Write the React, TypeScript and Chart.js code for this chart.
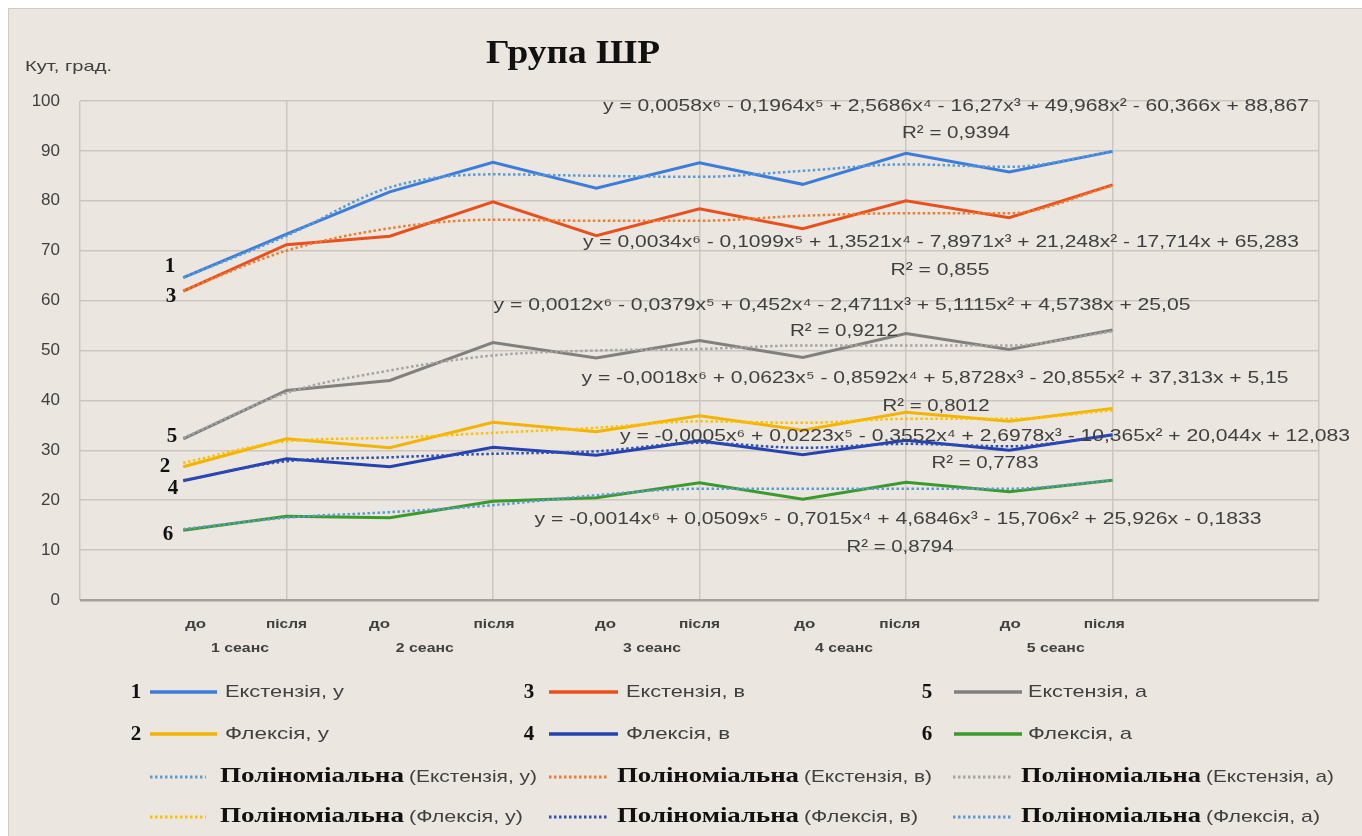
import React, { useEffect, useRef } from 'react';
import { Chart, registerables } from 'chart.js';

Chart.register(...registerables);

// ---------- data ----------
const categories = ['до', 'після', 'до', 'після', 'до', 'після', 'до', 'після', 'до', 'після'];
const sessions = ['1 сеанс', '2 сеанс', '3 сеанс', '4 сеанс', '5 сеанс'];
const yTickValues = [0, 10, 20, 30, 40, 50, 60, 70, 80, 90, 100];

const extensionU = [64.6, 73.3, 81.8, 87.7, 82.5, 87.6, 83.3, 89.5, 85.8, 89.9];
const flexionU = [26.7, 32.3, 30.5, 35.6, 33.7, 36.9, 34.0, 37.6, 35.8, 38.4];
const extensionV = [61.9, 71.2, 72.9, 79.8, 73.0, 78.4, 74.4, 80.0, 76.6, 83.2];
const flexionV = [23.9, 28.3, 26.7, 30.6, 29.0, 31.9, 29.1, 32.0, 30.0, 33.1];
const extensionA = [32.3, 42.0, 44.0, 51.6, 48.5, 52.0, 48.6, 53.4, 50.2, 54.1];
const flexionA = [14.0, 16.8, 16.5, 19.8, 20.5, 23.5, 20.2, 23.6, 21.7, 24.0];

// polynomial trend lines
const trendExtensionU = [64.6, 73.0, 82.7, 85.3, 85.0, 84.8, 86.0, 87.3, 86.8, 89.8];
const trendFlexionU = [27.5, 31.8, 32.5, 33.5, 34.5, 35.8, 35.5, 36.3, 36.3, 38.0];
const trendExtensionV = [62.0, 70.0, 74.5, 76.2, 76.0, 76.0, 77.0, 77.5, 77.5, 83.0];
const trendFlexionV = [24.0, 27.8, 28.6, 29.3, 29.8, 31.5, 30.5, 31.3, 30.8, 33.0];
const trendExtensionA = [32.5, 41.5, 46.0, 49.0, 50.0, 50.3, 51.0, 51.0, 51.0, 53.8];
const trendFlexionA = [14.2, 16.5, 17.6, 19.0, 21.0, 22.3, 22.3, 22.3, 22.3, 24.0];

const seriesNames = ['Екстензія, у', 'Флексія, у', 'Екстензія, в', 'Флексія, в', 'Екстензія, а', 'Флексія, а'];
const seriesNumbers = ['1', '2', '3', '4', '5', '6'];
const trendWord = 'Поліноміальна';

const equations = [
  'y = 0,0058x⁶ - 0,1964x⁵ + 2,5686x⁴ - 16,27x³ + 49,968x² - 60,366x + 88,867',
  'y = 0,0034x⁶ - 0,1099x⁵ + 1,3521x⁴ - 7,8971x³ + 21,248x² - 17,714x + 65,283',
  'y = 0,0012x⁶ - 0,0379x⁵ + 0,452x⁴ - 2,4711x³ + 5,1115x² + 4,5738x + 25,05',
  'y = -0,0018x⁶ + 0,0623x⁵ - 0,8592x⁴ + 5,8728x³ - 20,855x² + 37,313x + 5,15',
  'y = -0,0005x⁶ + 0,0223x⁵ - 0,3552x⁴ + 2,6978x³ - 10,365x² + 20,044x + 12,083',
  'y = -0,0014x⁶ + 0,0509x⁵ - 0,7015x⁴ + 4,6846x³ - 15,706x² + 25,926x - 0,1833',
];
const rSquared = ['R² = 0,9394', 'R² = 0,855', 'R² = 0,9212', 'R² = 0,8012', 'R² = 0,7783', 'R² = 0,8794'];

const titleText = 'Група ШР';
const yAxisTitle = 'Кут, град.';

// ---------- styles / layout ----------
const W = 1362;
const H = 836;
const BG = '#EBE6DF';
const GRID = '#CBC6BF';
const AXIS = '#A6A19B';
const TEXT = '#404040';
const SANS = "'Liberation Sans', 'DejaVu Sans', sans-serif";
const SERIF = "'Liberation Serif', 'DejaVu Serif', serif";

const lineColors = ['#3B7DD8', '#F2B400', '#E8501E', '#2543B0', '#808080', '#3A9A2A'];
const trendColors = ['#5B9BD5', '#FFC000', '#ED7D31', '#2F4FB5', '#A5A5A5', '#5B9BD5'];

const positions = categories.map((_, i) => i + 1);
const lineData = [extensionU, flexionU, extensionV, flexionV, extensionA, flexionA];
const trendData = [trendExtensionU, trendFlexionU, trendExtensionV, trendFlexionV, trendExtensionA, trendFlexionA];

// label offsets (category units) and pixel layout of annotations
const catLabelOffsets = [0.12, 0, -0.1, 0.01, 0.09, 0, 0.02, -0.06, 0.01, -0.08];
const sessionOffsets = [0.05, -0.16, 0.04, -0.1, -0.05];
const eqLayout = [
  { cx: 956, y: 106, w: 706, rcx: 956, ry: 133, rw: 108 },
  { cx: 941, y: 242, w: 716, rcx: 940, ry: 270, rw: 99 },
  { cx: 842, y: 305, w: 697, rcx: 844, ry: 331, rw: 108 },
  { cx: 935, y: 378, w: 707, rcx: 936, ry: 406, rw: 107 },
  { cx: 985, y: 436, w: 730, rcx: 985, ry: 463, rw: 107 },
  { cx: 898, y: 519, w: 727, rcx: 900, ry: 547, rw: 107 },
];
const numLabelPos = [
  { x: 170, y: 267 }, { x: 165, y: 467 }, { x: 171, y: 297 },
  { x: 173, y: 489 }, { x: 172, y: 437 }, { x: 168, y: 535 },
];
const legendCols = [
  { num: 136, l0: 150, l1: 217, text: 225, d0: 150, d1: 206, poly: 220, polyW: 184 },
  { num: 529, l0: 549, l1: 618, text: 626, d0: 549, d1: 609, poly: 617, polyW: 182 },
  { num: 927, l0: 954, l1: 1022, text: 1028, d0: 953, d1: 1013, poly: 1021, polyW: 180 },
];
const legendRows = [692, 734, 777, 817];

function txt(
  ctx: CanvasRenderingContext2D, s: string, x: number, y: number,
  font: string, color: string, align: 'left' | 'center' | 'right', w?: number,
) {
  ctx.save();
  ctx.font = font;
  ctx.fillStyle = color;
  ctx.textBaseline = 'middle';
  ctx.textAlign = 'left';
  const m = ctx.measureText(s).width;
  const width = w ?? m;
  const sx = w ? w / m : 1;
  const left = align === 'left' ? x : align === 'center' ? x - width / 2 : x - width;
  ctx.translate(left, y);
  ctx.scale(sx, 1);
  ctx.fillText(s, 0, 0);
  ctx.restore();
  return left + width;
}

function seg(ctx: CanvasRenderingContext2D, x0: number, x1: number, y: number, color: string, dotted: boolean) {
  ctx.save();
  ctx.strokeStyle = color;
  ctx.lineWidth = dotted ? 3 : 3.5;
  ctx.setLineDash(dotted ? [2.5, 2.5] : []);
  ctx.beginPath();
  ctx.moveTo(x0, y);
  ctx.lineTo(x1, y);
  ctx.stroke();
  ctx.restore();
}

const decorPlugin = {
  id: 'decor',
  beforeDraw(chart: any) {
    const ctx: CanvasRenderingContext2D = chart.ctx;
    ctx.save();
    ctx.fillStyle = '#FFFFFF';
    ctx.fillRect(0, 0, W, H);
    ctx.fillStyle = BG;
    ctx.fillRect(8, 8, W - 8, H - 8);
    ctx.strokeStyle = '#CFCAC4';
    ctx.lineWidth = 1;
    ctx.beginPath();
    ctx.moveTo(8.5, H);
    ctx.lineTo(8.5, 8.5);
    ctx.lineTo(W, 8.5);
    ctx.stroke();
    ctx.restore();
  },
  afterDraw(chart: any) {
    const ctx: CanvasRenderingContext2D = chart.ctx;
    const xs = chart.scales.x;

    // title and axis title
    txt(ctx, titleText, 573, 54, `bold 34px ${SERIF}`, '#111111', 'center', 174);
    txt(ctx, yAxisTitle, 25, 67, `15px ${SANS}`, TEXT, 'left', 87);

    // category labels
    categories.forEach((c, i) => {
      const px = xs.getPixelForValue(positions[i] + catLabelOffsets[i]);
      txt(ctx, c, px, 624, `bold 13px ${SANS}`, TEXT, 'center', c === 'до' ? 21 : 41);
    });
    sessions.forEach((s, i) => {
      const px = xs.getPixelForValue(positions[i * 2] + 0.5 + sessionOffsets[i]);
      txt(ctx, s, px, 648, `bold 13px ${SANS}`, TEXT, 'center', 58);
    });

    // series numbers near line starts
    seriesNumbers.forEach((n, i) => {
      txt(ctx, n, numLabelPos[i].x, numLabelPos[i].y, `bold 21px ${SERIF}`, '#111111', 'center');
    });

    // equations
    const eqOrder = [0, 2, 4, 1, 3, 5];
    eqOrder.forEach((_, k) => {
      const L = eqLayout[k];
      txt(ctx, equations[k], L.cx, L.y, `17px ${SANS}`, TEXT, 'center', L.w);
      txt(ctx, rSquared[k], L.rcx, L.ry, `17px ${SANS}`, TEXT, 'center', L.rw);
    });

    // legend
    const colSeries = [[0, 1], [2, 3], [4, 5]];
    colSeries.forEach((pair, c) => {
      const C = legendCols[c];
      pair.forEach((si, r) => {
        const y = legendRows[r];
        txt(ctx, seriesNumbers[si], C.num, y + 1, `bold 21px ${SERIF}`, '#111111', 'center');
        seg(ctx, C.l0, C.l1, y, lineColors[si], false);
        txt(ctx, seriesNames[si], C.text, y, `17px ${SANS}`, TEXT, 'left', r === 0 ? 119 : 104);
      });
      pair.forEach((si, r) => {
        const y = legendRows[2 + r];
        seg(ctx, C.d0, C.d1, y, trendColors[si], true);
        const end = txt(ctx, trendWord, C.poly, y, `bold 21px ${SERIF}`, '#111111', 'left', C.polyW);
        txt(ctx, `(${seriesNames[si]})`, end + 5, y, `17px ${SANS}`, TEXT, 'left', r === 0 ? 128 : 114);
      });
    });
  },
};

export default function App() {
  const ref = useRef<HTMLCanvasElement>(null);
  useEffect(() => {
    const datasets: any[] = [];
    lineData.forEach((vals, i) => {
      datasets.push({
        label: seriesNames[i],
        data: positions.map((x, j) => ({ x, y: vals[j] })),
        borderColor: lineColors[i],
        backgroundColor: lineColors[i],
        borderWidth: 3,
        pointRadius: 0,
        tension: 0,
        order: 2,
      });
    });
    trendData.forEach((vals, i) => {
      datasets.push({
        label: `${trendWord} (${seriesNames[i]})`,
        data: positions.map((x, j) => ({ x, y: vals[j] })),
        borderColor: trendColors[i],
        backgroundColor: trendColors[i],
        borderWidth: 2.5,
        borderDash: [2.5, 2.5],
        pointRadius: 0,
        tension: 0.4,
        cubicInterpolationMode: 'monotone',
        order: 1,
      });
    });

    const chart = new Chart(ref.current as HTMLCanvasElement, {
      type: 'line',
      data: { datasets },
      plugins: [decorPlugin],
      options: {
        responsive: false,
        animation: false,
        devicePixelRatio: 1,
        layout: { padding: { left: 0, top: 101, right: 43, bottom: 236 } },
        plugins: {
          legend: { display: false },
          tooltip: { enabled: false },
          title: { display: false },
        },
        scales: {
          x: {
            type: 'linear',
            min: 0,
            max: 12,
            ticks: { display: false, stepSize: 2 },
            grid: { color: GRID, lineWidth: 1.5, drawTicks: false },
            border: { display: false },
            afterFit: (s: any) => { s.height = 0; },
          },
          y: {
            min: yTickValues[0],
            max: yTickValues[yTickValues.length - 1],
            ticks: {
              stepSize: 10,
              color: TEXT,
              font: { family: SANS, size: 17 },
              padding: 20,
            },
            grid: {
              color: (c: any) => (c.tick && c.tick.value === 0 ? AXIS : GRID),
              lineWidth: (c: any) => (c.tick && c.tick.value === 0 ? 2.5 : 1.5),
              drawTicks: false,
            },
            border: { display: false },
            afterFit: (s: any) => { s.width = 80; },
          },
        },
      } as any,
    });
    return () => chart.destroy();
  }, []);

  return (
    <div style={{ position: 'fixed', left: 0, top: 0, width: W, height: H, background: '#fff' }}>
      <canvas ref={ref} width={W} height={H} style={{ display: 'block', width: W, height: H }} />
    </div>
  );
}
